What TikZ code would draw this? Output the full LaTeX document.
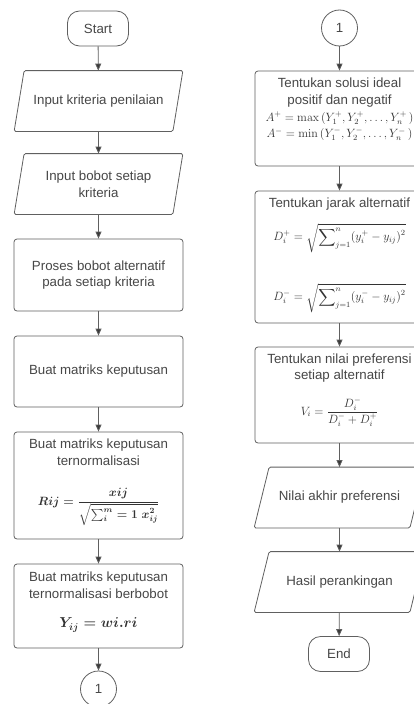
\documentclass[tikz,border=0pt]{standalone}
\usepackage{amsmath}
\usepackage[no-math]{fontspec}
\setmainfont{Liberation Sans}
\usetikzlibrary{arrows.meta}
\definecolor{txt}{HTML}{474747}
\definecolor{linec}{HTML}{606060}
\definecolor{arr}{HTML}{3A3A3A}
\definecolor{mtxt}{HTML}{333333}
\newcommand\mainsz{\fontsize{13.3}{16.7}\selectfont}
\newcommand\paral[2]{\draw[linec, line width=0.8pt, rounded corners=1.5pt]
  ([xshift=#2]#1.north west) -- ([xshift=#2]#1.north east) --
  ([xshift=-#2]#1.south east) -- ([xshift=-#2]#1.south west) -- cycle;}
\tikzset{
  base/.style={line width=0.8pt, text=txt, font=\mainsz, align=center, inner sep=0pt},
  proc/.style={base, draw=linec, rectangle, rounded corners=3pt, minimum width=169pt, minimum height=#1},
  iobox/.style={base, rectangle, minimum width=#1, minimum height=60pt},
  term/.style={base, draw=linec, rectangle, rounded corners=12pt, minimum width=61pt, minimum height=35pt},
  conn/.style={base, draw=linec, circle, minimum size=36pt},
  lbl/.style={text=txt, font=\mainsz, align=center, inner sep=0pt},
  bigmath/.style={text=mtxt, inner sep=0pt, font=\boldmath\fontsize{#1}{18}\selectfont},
  smallmath/.style={text=mtxt, inner sep=0pt, align=center, font=\fontsize{11.5}{16.5}\selectfont},
  flow/.style={draw=linec, line width=0.8pt, -{Triangle[length=7pt,width=6pt,fill=arr]}},
}
\begin{document}
\begin{tikzpicture}[x=1pt,y=-1pt]
\useasboundingbox (0,0) rectangle (414,704);
\clip (0,0) rectangle (414,704);
\fill[white] (0,0) rectangle (414,704);

% left column
\node[term] (st) at (98,28.5) {Start};
\node[iobox=158pt] (in1) at (98.5,101) {Input kriteria penilaian};
\node[iobox=158pt] (in2) at (98.5,184) {Input bobot setiap\\kriteria};
\paral{in1}{5pt}
\paral{in2}{5pt}
\node[proc=72pt] (p1) at (98.5,275) {Proses bobot alternatif\\pada setiap kriteria};
\node[proc=71pt] (p2) at (98.5,371.5) {Buat matriks keputusan};
\node[proc=107pt] (p3) at (98.5,485.5) {};
\node[lbl] (t3) at (98.5,452.5) {Buat matriks keputusan\\ternormalisasi};
\node[bigmath=12] (f3) at (98.5,507) {$Rij=\dfrac{xij}{\sqrt{\sum\nolimits_{i}^{m}=1\;x_{ij}^{2}}}$};
\node[proc=84pt] (p4) at (98.5,606) {};
\node[lbl] (t4) at (98.5,585) {Buat matriks keputusan\\ternormalisasi berbobot};
\node[bigmath=14] (f4) at (98.5,625) {$Y_{ij}=wi.ri$};
\node[conn] (c1) at (98.5,689) {1};

% right column
\node[conn] (c2) at (339.5,28) {1};
\node[proc=95pt] (q1) at (339.5,118.5) {};
\node[lbl] (tq1) at (339.5,92.5) {Tentukan solusi ideal\\positif dan negatif};
\node[smallmath] (fa) at (339.5,126) {$A^{+}=\max\,(Y_1^{+},Y_2^{+},\dots,Y_n^{+}\,)$\\$A^{-}=\min\,(Y_1^{-},Y_2^{-},\dots,Y_n^{-}\,)$};
\node[proc=132pt] (q2) at (339.5,257) {};
\node[lbl] (tq2) at (339.5,204) {Tentukan jarak alternatif};
\node[smallmath] (fd1) at (339.5,238) {$D_i^{+}=\sqrt{\displaystyle\sum\nolimits_{j=1}^{n}(y_i^{+}-y_{ij})^{2}}$};
\node[smallmath] (fd2) at (339.5,298) {$D_i^{-}=\sqrt{\displaystyle\sum\nolimits_{j=1}^{n}(y_i^{-}-y_{ij})^{2}}$};
\node[proc=96pt] (q3) at (339.5,395) {};
\node[lbl] (tq3) at (339.5,368) {Tentukan nilai preferensi\\setiap alternatif};
\node[smallmath] (fv) at (339.5,412) {$V_i=\dfrac{D_i^{-}}{D_i^{-}+D_i^{+}}$};
\node[iobox=155pt] (o1) at (339.5,497.5) {Nilai akhir preferensi};
\node[iobox=155pt] (o2) at (339.5,582) {Hasil perankingan};
\paral{o1}{7.5pt}
\paral{o2}{7.5pt}
\node[term] (en) at (339,654) {End};

% connectors
\draw[flow] (st) -- (in1);
\draw[flow] (in1) -- (in2);
\draw[flow] (in2) -- (p1);
\draw[flow] (p1) -- (p2);
\draw[flow] (p2) -- (p3);
\draw[flow] (p3) -- (p4);
\draw[flow] (p4) -- (c1);
\draw[flow] (c2) -- (q1);
\draw[flow] (q1) -- (q2);
\draw[flow] (q2) -- (q3);
\draw[flow] (q3) -- (o1);
\draw[flow] (o1) -- (o2);
\draw[flow] (o2) -- (en);
\end{tikzpicture}
\end{document}
